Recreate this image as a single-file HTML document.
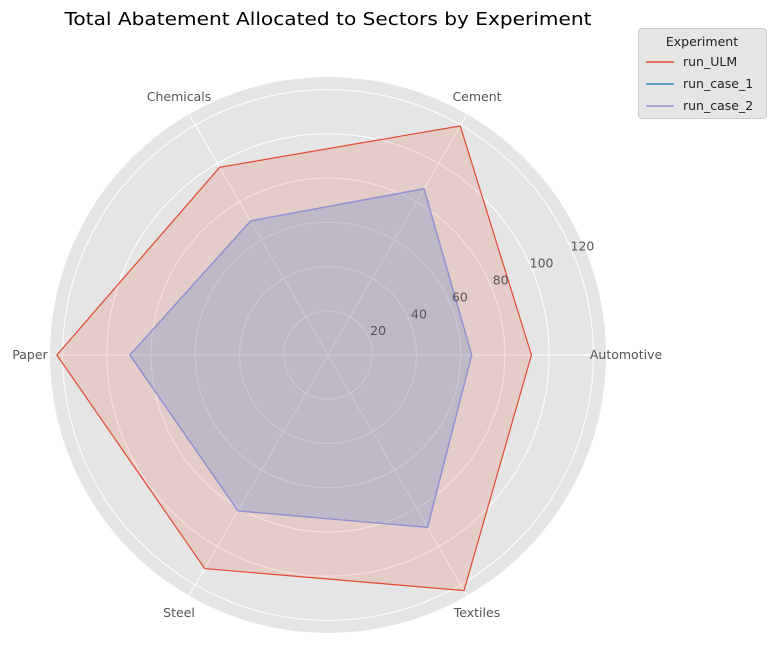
<!DOCTYPE html>
<html><head><meta charset="utf-8"><style>
body{margin:0;background:#fff;font-family:"DejaVu Sans","Liberation Sans",sans-serif;}
svg text{font-family:"DejaVu Sans","Liberation Sans",sans-serif;}
</style></head><body>
<svg id="chart" width="776" height="644">
<text x="328" y="25" font-size="18" text-anchor="middle" fill="#000" textLength="527" lengthAdjust="spacingAndGlyphs">Total Abatement Allocated to Sectors by Experiment</text>
<g id="plot"></g>
<g>
<rect x="638.5" y="28.5" width="128" height="90" rx="3" fill="#E5E5E5" stroke="#ccc"/>
<text x="702" y="46" font-size="12.5" text-anchor="middle" fill="#222">Experiment</text>
<g><line x1="646" y1="62" x2="674" y2="62" stroke="#E24A33" stroke-width="1.5"/><text x="683" y="66" font-size="12.5" fill="#222">run_ULM</text></g>
<g><line x1="646" y1="84" x2="674" y2="84" stroke="#348ABD" stroke-width="1.5"/><text x="683" y="88" font-size="12.5" fill="#222">run_case_1</text></g>
<g><line x1="646" y1="106" x2="674" y2="106" stroke="#988ED5" stroke-width="1.5"/><text x="683" y="110" font-size="12.5" fill="#222">run_case_2</text></g>
</g>
</svg>
<script>
const categories=["Automotive","Cement","Chemicals","Paper","Steel","Textiles"];
const runULM=[92,119.6,98,122.6,111.5,123];
const runCase1=[65,86.8,70,89.6,81.4,90];
const runCase2=[65,86.8,70,89.6,81.4,90];
const rTicks=[20,40,60,80,100,120];
const cx=328,cy=355,R=278,rMax=125.7;
const NS="http://www.w3.org/2000/svg";
const g=document.getElementById('plot');
function rs(v){return v/rMax*R;}
function ang(i){return i*2*Math.PI/categories.length;}
function pt(i,v){const a=ang(i),r=rs(v);return [cx+r*Math.cos(a),cy-r*Math.sin(a)];}
function mk(t,attrs){const e=document.createElementNS(NS,t);for(const k in attrs)e.setAttribute(k,attrs[k]);g.appendChild(e);return e;}
const bg=mk('circle',{cx:cx,cy:cy,r:R,fill:'#E5E5E5'});


rTicks.forEach(t=>{
 const c=mk('circle',{cx:cx,cy:cy,r:rs(t),fill:'none',stroke:'#fff','stroke-width':1});
 
 
});
categories.forEach((c,i)=>{
 const p=pt(i,rMax);
 const l=mk('line',{x1:cx,y1:cy,x2:p[0],y2:p[1],stroke:'#fff','stroke-width':1});
 
 
 const a=ang(i),r=298;
 const tx=mk('text',{x:cx+r*Math.cos(a),y:cy-r*Math.sin(a)+4,'font-size':12.5,'text-anchor':'middle',fill:'#555'});
 tx.textContent=c;
 
 
});
const series=[[runULM,'#E24A33','series-run-ulm'],[runCase1,'#348ABD','series-run-case-1'],[runCase2,'#988ED5','series-run-case-2']];
series.forEach(s=>{
 const pts=s[0].map((v,i)=>pt(i,v).join(',')).join(' ');
 const pg=mk('polygon',{points:pts,fill:s[1],'fill-opacity':0.16,stroke:s[1],'stroke-width':1.2});
 
 
});
rTicks.forEach(t=>{
 const a=22.5*Math.PI/180,r=rs(t)+10;
 const tx=mk('text',{x:cx+r*Math.cos(a),y:cy-r*Math.sin(a)+1,'font-size':12.5,'text-anchor':'middle',fill:'#555'});
 tx.textContent=t;
 
 
});
</script>
</body></html>
